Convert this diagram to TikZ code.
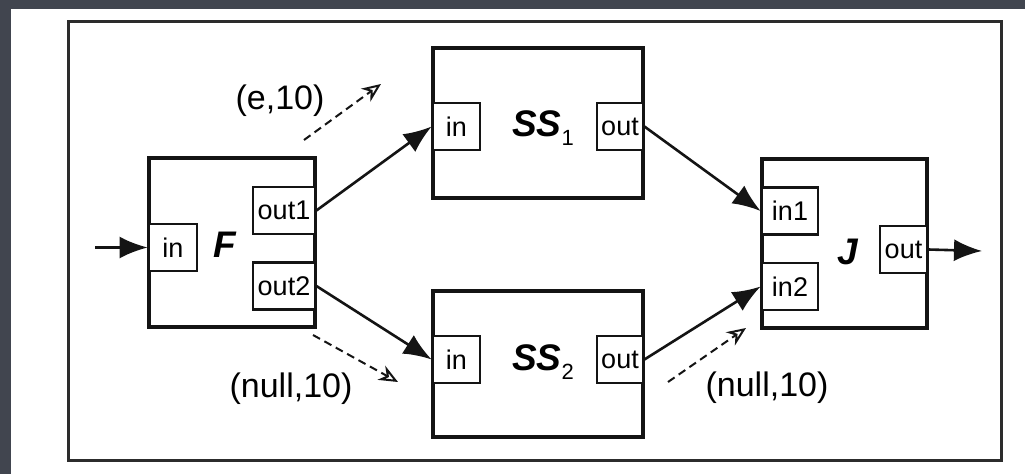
\documentclass[tikz,border=0pt]{standalone}
\usepackage{fontspec}
\setmainfont{Liberation Sans}
\usetikzlibrary{arrows.meta}
\definecolor{slate}{HTML}{41454F}
\definecolor{ink}{HTML}{141414}
\newcommand{\idx}[1]{\raisebox{-9pt}{\normalfont\fontsize{22}{24}\selectfont #1}}
\tikzset{
  blk/.style={draw=ink, line width=3.2pt, inner sep=0pt, fill=white},
  port/.style={draw=ink, line width=2.8pt, inner sep=0pt, fill=white,
    minimum height=47pt, font=\fontsize{27}{30}\selectfont},
  title/.style={font=\fontsize{37}{40}\selectfont\bfseries\itshape, inner sep=0pt},
  lbl/.style={font=\fontsize{34}{38}\selectfont, inner sep=0pt},
  flow/.style={draw=ink, line width=2.6pt, -{Latex[length=28pt,width=22pt]}},
  msg/.style={draw=ink, line width=2pt, dash pattern=on 8pt off 5pt,
    -{Stealth[open,length=19pt,width=16pt,line width=2pt]}}
}
\begin{document}
\begin{tikzpicture}[x=1pt,y=-1pt]
\useasboundingbox (0,0) rectangle (1025,474);
\fill[slate] (0,0) rectangle (1025,474);
\fill[white] (11,9) rectangle (1025,474);
\draw[draw=ink!90, line width=3pt] (68,21) rectangle (1001,460);

% fork block F
\node[blk, minimum width=166pt, minimum height=169pt] (F) at (232,242.5) {};
\node[port, minimum width=48pt] (Fin) at (173,247.5) {in};
\node[port, minimum width=62pt] (Fout1) at (284,210.5) {out1};
\node[port, minimum width=62pt] (Fout2) at (284,286) {out2};
\node[title] (Ft) at (225,245) {F};

% subsystem SS1
\node[blk, minimum width=210pt, minimum height=150pt] (S1) at (538,123) {};
\node[port, minimum width=47pt] (S1in) at (456.5,126.5) {in};
\node[port, minimum width=46pt] (S1out) at (620,126.5) {out};
\node[title] (S1t) at (543,128) {SS\idx{1}};

% subsystem SS2
\node[blk, minimum width=210pt, minimum height=146pt] (S2) at (538,364) {};
\node[port, minimum width=47pt] (S2in) at (456.5,359.5) {in};
\node[port, minimum width=46pt] (S2out) at (620,359.5) {out};
\node[title] (S2t) at (543,362) {SS\idx{2}};

% join block J
\node[blk, minimum width=165pt, minimum height=169pt] (J) at (844.5,243.5) {};
\node[port, minimum width=56pt] (Jin1) at (790,211) {in1};
\node[port, minimum width=56pt] (Jin2) at (790,286.5) {in2};
\node[port, minimum width=47pt] (Jout) at (903.5,249.5) {out};
\node[title] (Jt) at (848,252) {J};

% external ends
\coordinate (src) at (95,247.5);
\coordinate (snk) at (982,251);

% data flow
\draw[flow] (src) -- (Fin.west);
\draw[flow] (Fout1.east) -- (S1in.west);
\draw[flow] (Fout2.east) -- (S2in.west);
\draw[flow] (S1out.east) -- (Jin1.west);
\draw[flow] (S2out.east) -- (Jin2.west);
\draw[flow] (Jout.east) -- (snk);

% messages
\coordinate (m1a) at (304,140);
\coordinate (m1b) at (381,84);
\coordinate (m2a) at (313,335);
\coordinate (m2b) at (398,382);
\coordinate (m3a) at (668,382);
\coordinate (m3b) at (746,328);
\draw[msg] (m1a) -- (m1b);
\draw[msg] (m2a) -- (m2b);
\draw[msg] (m3a) -- (m3b);
\node[lbl] (l1) at (280,101) {(e,10)};
\node[lbl] (l2) at (291,389) {(null,10)};
\node[lbl] (l3) at (767,388) {(null,10)};
\end{tikzpicture}
\end{document}
